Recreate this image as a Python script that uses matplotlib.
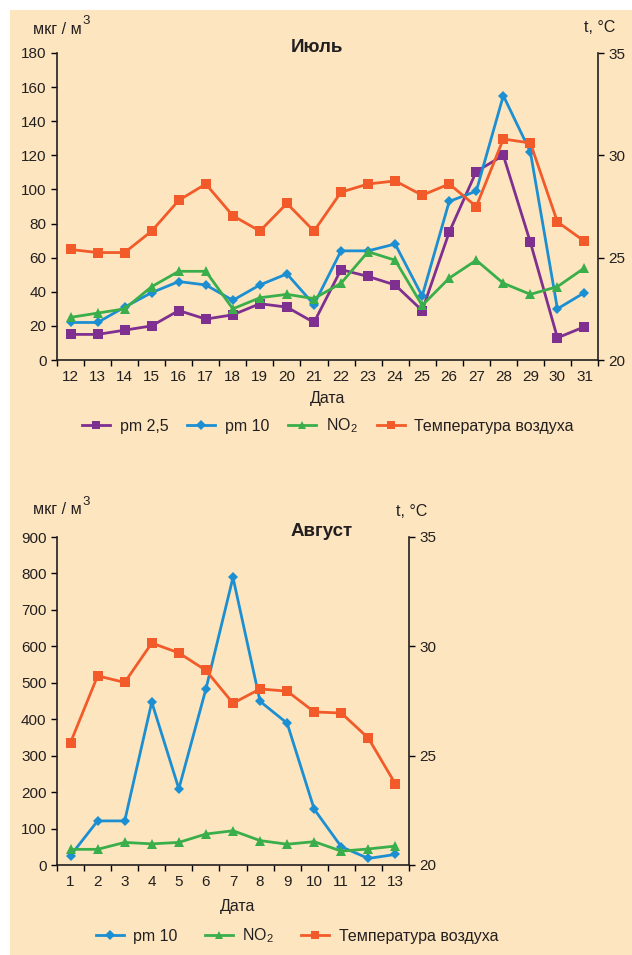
import matplotlib
matplotlib.use('Agg')
import matplotlib.pyplot as plt
from matplotlib.patches import Rectangle
from matplotlib.lines import Line2D
import numpy as np

plt.rcParams['font.family'] = ['Liberation Sans', 'DejaVu Sans']
plt.rcParams['mathtext.fontset'] = 'custom'
plt.rcParams['mathtext.rm'] = 'Liberation Sans'

# July data
july_days = [str(d) for d in range(12, 32)]
july_pm25 = [15, 15, 17.5, 20, 29, 24, 26.5, 33, 31, 22,
             53, 49, 44, 29, 75, 110.5, 120, 69, 13, 19.5]
july_pm10 = [22, 22, 31, 39.5, 46, 44, 35, 44, 50.5, 32.5,
             64, 64, 68, 37.5, 93, 99, 155, 122, 30, 39.5]
july_no2 = [25, 27.5, 30, 43, 52, 52, 30, 36.5, 38.5, 36,
            45, 63.5, 58.5, 32, 48, 58.5, 45, 38.5, 43, 54]
july_temp = [25.4, 25.25, 25.25, 26.3, 27.8, 28.6, 27.05, 26.3, 27.65, 26.3,
             28.2, 28.6, 28.75, 28.05, 28.6, 27.5, 30.8, 30.6, 26.75, 25.8]

# August data
aug_days = [str(d) for d in range(1, 14)]
aug_pm10 = [26, 121, 121, 447, 209, 483, 789, 449, 389, 153, 50, 18, 29]
aug_no2 = [43, 43, 62, 58, 62, 85, 94, 67, 57, 64, 38, 44, 52]
aug_temp = [25.6, 28.65, 28.35, 30.15, 29.7, 28.9, 27.4, 28.05, 27.95,
            27.0, 26.95, 25.8, 23.7]

PURPLE = '#7f2f8f'
BLUE = '#1b8fd2'
GREEN = '#3aae4a'
ORANGE = '#f25a2a'
BG = '#fde6bf'
TXT = '#231f20'

W, H = 632, 955
fig = plt.figure(figsize=(W / 100, H / 100), dpi=100)
fig.patch.set_facecolor('white')
fig.add_artist(Rectangle((10 / W, 0), 1 - 10 / W, 1 - 10 / H,
                         transform=fig.transFigure, facecolor=BG,
                         edgecolor='none', zorder=-10))


def px_axes(left, top, right, bottom):
    return fig.add_axes([left / W, 1 - bottom / H, (right - left) / W,
                         (bottom - top) / H])


def setup(ax, days, ymax, ystep):
    n = len(days)
    ax.set_facecolor('none')
    ax.set_xlim(0, n)
    ax.set_ylim(0, ymax)
    ax.set_yticks(np.arange(0, ymax + 1, ystep))
    ax.set_xticks(np.arange(n + 1))
    ax.set_xticklabels([])
    ax.set_xticks(np.arange(n) + 0.5, minor=True)
    ax.set_xticklabels(days, minor=True)
    ax.tick_params(axis='x', which='major', length=4, width=1, direction='out')
    ax.tick_params(axis='x', which='minor', length=0, pad=7,
                   labelsize=11, labelcolor=TXT)
    ax.tick_params(axis='y', length=4, width=1, labelsize=11, labelcolor=TXT)
    ax.spines['top'].set_visible(False)
    ax.spines['right'].set_visible(False)
    for s in ('left', 'bottom'):
        ax.spines[s].set_linewidth(1.2)
        ax.spines[s].set_color(TXT)
    tw = ax.twinx()
    tw.set_ylim(20, 35)
    tw.set_yticks([20, 25, 30, 35])
    tw.tick_params(axis='y', length=4, width=1, labelsize=11, labelcolor=TXT)
    for s in ('top', 'left', 'bottom'):
        tw.spines[s].set_visible(False)
    tw.spines['right'].set_linewidth(1.2)
    tw.spines['right'].set_color(TXT)
    return tw


def unit_label(ax, y):
    t = fig.text(33 / W, 1 - y / H, 'мкг / м', fontsize=11.5, color=TXT,
                 ha='left', va='center')
    ax.annotate('3', xy=(1.0, 0.62), xycoords=t, xytext=(0.5, 0),
                textcoords='offset points', fontsize=9.5, color=TXT,
                ha='left', va='bottom', annotation_clip=False)


style = dict(lw=2.0, markeredgewidth=0)

# ---- July ----
ax1 = px_axes(57, 53, 598, 360)
tw1 = setup(ax1, july_days, 180, 20)
x1 = np.arange(len(july_days)) + 0.5
ax1.plot(x1, july_pm25, color=PURPLE, marker='s', ms=6.5, **style)
ax1.plot(x1, july_pm10, color=BLUE, marker='D', ms=5.5, **style)
ax1.plot(x1, july_no2, color=GREEN, marker='^', ms=6.5, **style)
tw1.plot(x1, july_temp, color=ORANGE, marker='s', ms=6.5, **style)

unit_label(ax1, 29)
fig.text(600 / W, 1 - 28 / H, 't, °C', fontsize=11.5, color=TXT,
         ha='center', va='center')
fig.text(317 / W, 1 - 48 / H, 'Июль', fontsize=13.5, fontweight='bold',
         color=TXT, ha='center', va='center')
fig.text(328 / W, 1 - 398 / H, 'Дата', fontsize=11.5, color=TXT,
         ha='center', va='center')


def handle(color, marker, ms):
    return Line2D([], [], color=color, marker=marker, ms=ms, lw=2.0,
                  markeredgewidth=0)


h_pm25 = handle(PURPLE, 's', 6)
h_pm10 = handle(BLUE, 'D', 5)
h_no2 = handle(GREEN, '^', 6)
h_temp = handle(ORANGE, 's', 6)

leg_kw = dict(frameon=False, fontsize=11.5, handlelength=1.75,
              handletextpad=0.6, columnspacing=1.2, borderpad=0,
              labelcolor=TXT)
fig.legend([h_pm25, h_pm10, h_no2, h_temp],
           ['pm 2,5', 'pm 10', 'NO$_2$', 'Температура воздуха'],
           loc='center', ncol=4, bbox_to_anchor=(328 / W, 1 - 426 / H),
           **leg_kw)

# ---- August ----
ax2 = px_axes(57, 537, 409, 865)
tw2 = setup(ax2, aug_days, 900, 100)
x2 = np.arange(len(aug_days)) + 0.5
ax2.plot(x2, aug_pm10, color=BLUE, marker='D', ms=5.5, **style)
ax2.plot(x2, aug_no2, color=GREEN, marker='^', ms=6.5, **style)
tw2.plot(x2, aug_temp, color=ORANGE, marker='s', ms=6.5, **style)

unit_label(ax2, 510)
fig.text(412 / W, 1 - 511 / H, 't, °C', fontsize=11.5, color=TXT,
         ha='center', va='center')
fig.text(322 / W, 1 - 532 / H, 'Август', fontsize=13.5, fontweight='bold',
         color=TXT, ha='center', va='center')
fig.text(238 / W, 1 - 906 / H, 'Дата', fontsize=11.5, color=TXT,
         ha='center', va='center')

fig.legend([h_pm10, h_no2, h_temp],
           ['pm 10', 'NO$_2$', 'Температура воздуха'],
           loc='center', ncol=3, bbox_to_anchor=(297 / W, 1 - 936 / H),
           **dict(leg_kw, columnspacing=1.7))

fig.savefig('out.png', dpi=100, facecolor=fig.get_facecolor())
